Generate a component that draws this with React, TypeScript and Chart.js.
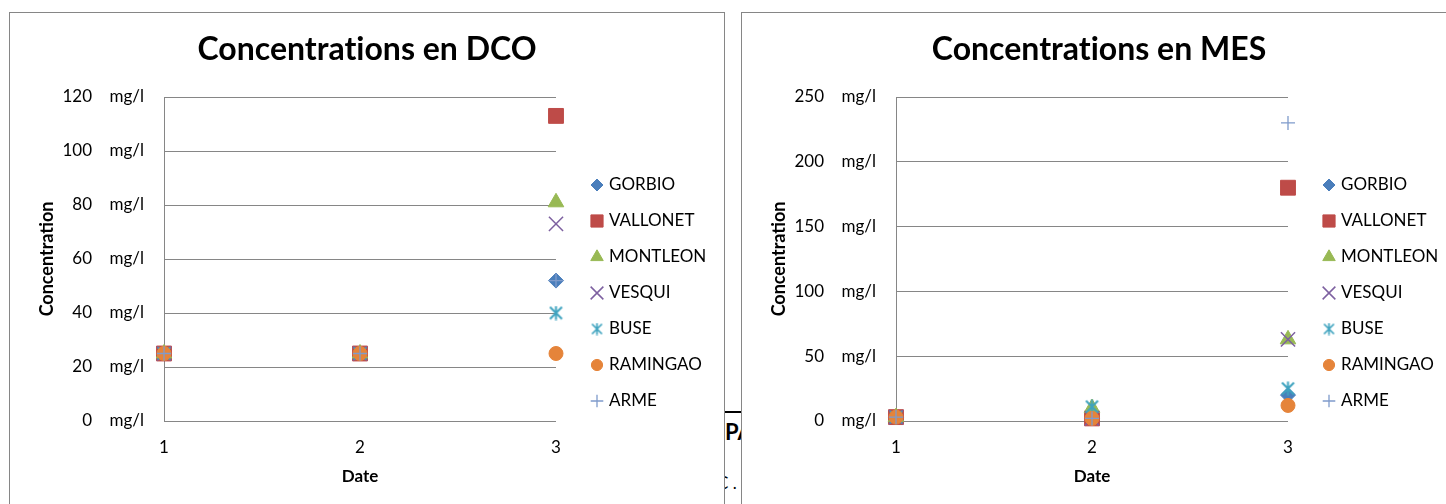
import React, { useEffect, useRef } from 'react';
import { Chart, registerables } from 'chart.js';
import { drawPoint } from 'chart.js/helpers';

Chart.register(...registerables);

// Sampling dates (x axis) and station names
const dates = [1, 2, 3];
const stationNames = ['GORBIO', 'VALLONET', 'MONTLEON', 'VESQUI', 'BUSE', 'RAMINGAO', 'ARME'];

// DCO concentrations (mg/l) per station, one value per date
const dcoGorbio = [25, 25, 52];
const dcoVallonet = [25, 25, 113];
const dcoMontleon = [25, 25, 81];
const dcoVesqui = [25, 25, 73];
const dcoBuse = [25, 25, 40];
const dcoRamingao = [25, 25, 25];
const dcoArme = [25, 25, 52];

// MES concentrations (mg/l) per station, one value per date
const mesGorbio = [3, 2, 20];
const mesVallonet = [3, 2, 180];
const mesMontleon = [3, 10, 63];
const mesVesqui = [3, 2, 63];
const mesBuse = [3, 11, 25];
const mesRamingao = [3, 2, 12];
const mesArme = [3, 2, 230];

// Y axis tick settings
const dcoMax = 120;
const dcoStep = 20;
const mesMax = 250;
const mesStep = 50;

const FONT = 'Lato';
const GRID = '#868686';
const TEXT = '#000000';

type MarkerDef = {
  style: any;
  color: string;
  radius: number;
  legendRadius: number;
  borderWidth: number;
  fill: boolean;
};

// Asterisk marker: an X crossed by a vertical stroke
function makeAsterisk(size: number, color: string, lw: number): HTMLCanvasElement {
  const c = document.createElement('canvas');
  c.width = size;
  c.height = size;
  const g = c.getContext('2d')!;
  g.strokeStyle = color;
  g.lineWidth = lw;
  g.lineCap = 'butt';
  const m = 1.5;
  const h = size / 2;
  g.beginPath();
  g.moveTo(m, m);
  g.lineTo(size - m, size - m);
  g.moveTo(size - m, m);
  g.lineTo(m, size - m);
  g.moveTo(h, 0.5);
  g.lineTo(h, size - 0.5);
  g.stroke();
  return c;
}

function buildMarkers(): { data: MarkerDef[]; legendStyles: any[] } {
  const buseColor = '#3FA3BF';
  const data: MarkerDef[] = [
    { style: 'rectRot', color: '#4A7EBB', radius: 7.5, legendRadius: 6, borderWidth: 1, fill: true },
    { style: 'rect', color: '#BE4B48', radius: 10.5, legendRadius: 8.6, borderWidth: 1, fill: true },
    { style: 'triangle', color: '#98B954', radius: 9, legendRadius: 7.2, borderWidth: 1, fill: true },
    { style: 'crossRot', color: '#7D60A0', radius: 10, legendRadius: 9, borderWidth: 1.5, fill: false },
    { style: makeAsterisk(15, buseColor, 2), color: buseColor, radius: 7.5, legendRadius: 6, borderWidth: 0, fill: false },
    { style: 'circle', color: '#E5843A', radius: 7, legendRadius: 5.6, borderWidth: 1, fill: true },
    { style: 'cross', color: '#7F9BCB', radius: 7, legendRadius: 6.3, borderWidth: 1.3, fill: false },
  ];
  const legendStyles = data.map((d, i) => (i === 4 ? makeAsterisk(13, buseColor, 1.7) : d.style));
  return { data, legendStyles };
}

// Legend drawn as a vertical list to the right of the plot
const sideLegend = {
  id: 'sideLegend',
  afterDraw(chart: any, _args: any, opts: any) {
    const { ctx } = chart;
    const items = opts.items as { label: string; style: any; color: string; radius: number; borderWidth: number; fill: boolean }[];
    ctx.save();
    items.forEach((it, i) => {
      const y = opts.y + i * opts.spacing;
      ctx.fillStyle = it.fill ? it.color : 'rgba(0,0,0,0)';
      ctx.strokeStyle = it.color;
      ctx.lineWidth = it.borderWidth;
      drawPoint(ctx, { pointStyle: it.style, rotation: 0, radius: it.radius, borderWidth: it.borderWidth }, opts.markerX, y);
      ctx.fillStyle = TEXT;
      ctx.font = `17px ${FONT}`;
      ctx.textAlign = 'left';
      ctx.textBaseline = 'middle';
      ctx.fillText(it.label, opts.textX, y);
    });
    ctx.restore();
  },
};

const CANVAS_W = 714;
const CANVAS_H = 480;
const AREA_LEFT = 154;
const AREA_RIGHT = 546;
const AREA_TOP = 84;
const AREA_BOTTOM = 408;

function makeConfig(title: string, series: number[][], yMax: number, yStep: number) {
  const { data: markers, legendStyles } = buildMarkers();
  const n = series.length;
  const datasets = series.map((vals, i) => {
    const m = markers[i];
    return {
      label: stationNames[i],
      data: dates.map((d, j) => ({ x: d, y: vals[j] })),
      pointStyle: m.style,
      pointRadius: m.radius,
      pointBorderWidth: m.borderWidth,
      backgroundColor: m.fill ? m.color : 'rgba(0,0,0,0)',
      borderColor: m.color,
      showLine: false,
      clip: false,
      order: n - 1 - i,
    };
  });
  const titleSize = 32;
  const titlePadTop = 36.5 - titleSize * 0.6;
  const titlePadBottom = AREA_TOP - titlePadTop - titleSize * 1.2;
  return {
    type: 'scatter',
    data: { datasets },
    options: {
      animation: false,
      responsive: false,
      events: [],
      layout: { padding: 0 },
      plugins: {
        legend: { display: false },
        tooltip: { enabled: false },
        title: {
          display: true,
          // zero-width non-joiner keeps "t" and "i" as separate glyphs
          text: title.replace('ti', 't\u200Ci'),
          color: TEXT,
          font: { family: FONT, size: titleSize, weight: 'bold' },
          padding: { top: titlePadTop, bottom: titlePadBottom },
        },
        sideLegend: {
          items: stationNames.map((label, i) => ({
            label,
            style: legendStyles[i],
            color: markers[i].color,
            radius: markers[i].legendRadius,
            borderWidth: markers[i].borderWidth,
            fill: markers[i].fill,
          })),
          markerX: 587,
          textX: 599,
          y: 172,
          spacing: 36,
        },
      },
      scales: {
        x: {
          type: 'linear',
          min: 1,
          max: 3,
          ticks: { stepSize: 1, color: TEXT, font: { family: FONT, size: 17 }, padding: 16 },
          grid: { display: false, drawTicks: false },
          border: { display: false },
          title: {
            display: true,
            text: 'Date',
            color: TEXT,
            font: { family: FONT, size: 17, weight: 'bold' },
            padding: { top: 0, bottom: 6 },
          },
          afterFit: (s: any) => {
            s.height = CANVAS_H - AREA_BOTTOM;
          },
        },
        y: {
          type: 'linear',
          min: 0,
          max: yMax,
          ticks: {
            stepSize: yStep,
            color: TEXT,
            font: { family: FONT, size: 17 },
            padding: 20,
            callback: (v: any) => `${v}    mg/l`,
          },
          grid: { color: GRID, lineWidth: 1, drawTicks: false },
          border: { display: true, color: GRID, width: 1 },
          title: {
            display: true,
            text: 'Concentration',
            color: TEXT,
            font: { family: FONT, size: 18, weight: 'bold' },
            padding: { top: 26, bottom: 0 },
          },
          afterFit: (s: any) => {
            s.width = AREA_LEFT;
          },
        },
        legendSpace: {
          type: 'linear',
          position: 'right',
          display: true,
          grid: { display: false, drawTicks: false },
          ticks: { display: false },
          border: { display: false },
          afterFit: (s: any) => {
            s.width = CANVAS_W - AREA_RIGHT;
          },
        },
      },
    },
    plugins: [sideLegend],
  };
}

function ChartBox({ left, title, series, yMax, yStep }: { left: number; title: string; series: number[][]; yMax: number; yStep: number }) {
  const ref = useRef<HTMLCanvasElement>(null);
  useEffect(() => {
    if (!ref.current) return;
    const chart = new Chart(ref.current, makeConfig(title, series, yMax, yStep) as any);
    return () => chart.destroy();
  }, [title, series, yMax, yStep]);
  return (
    <div
      style={{
        position: 'absolute',
        left,
        top: 12,
        width: 716,
        height: 520,
        boxSizing: 'border-box',
        border: `1px solid ${GRID}`,
        background: '#ffffff',
        zIndex: 2,
      }}
    >
      <canvas ref={ref} width={CANVAS_W} height={CANVAS_H} style={{ display: 'block', width: CANVAS_W, height: CANVAS_H }} />
    </div>
  );
}

const dcoSeries = [dcoGorbio, dcoVallonet, dcoMontleon, dcoVesqui, dcoBuse, dcoRamingao, dcoArme];
const mesSeries = [mesGorbio, mesVallonet, mesMontleon, mesVesqui, mesBuse, mesRamingao, mesArme];

export default function App() {
  return (
    <div style={{ position: 'fixed', left: 0, top: 0, width: 1446, height: 504, overflow: 'hidden', background: '#ffffff', fontFamily: FONT }}>
      {/* page text showing through the gap between the two charts */}
      <div style={{ position: 'absolute', left: 724, top: 411, width: 17, height: 2, background: '#000', zIndex: 1 }} />
      <div style={{ position: 'absolute', left: 725, top: 419, fontSize: 22, fontWeight: 'bold', color: '#000', whiteSpace: 'nowrap', lineHeight: '26px', zIndex: 1 }}>
        PAR
      </div>
      <div style={{ position: 'absolute', left: 717, top: 472, fontSize: 17, color: '#000', whiteSpace: 'nowrap', lineHeight: '22px', zIndex: 1 }}>
        C .
      </div>
      <ChartBox left={9} title="Concentrations en DCO" series={dcoSeries} yMax={dcoMax} yStep={dcoStep} />
      <ChartBox left={741} title="Concentrations en MES" series={mesSeries} yMax={mesMax} yStep={mesStep} />
    </div>
  );
}
